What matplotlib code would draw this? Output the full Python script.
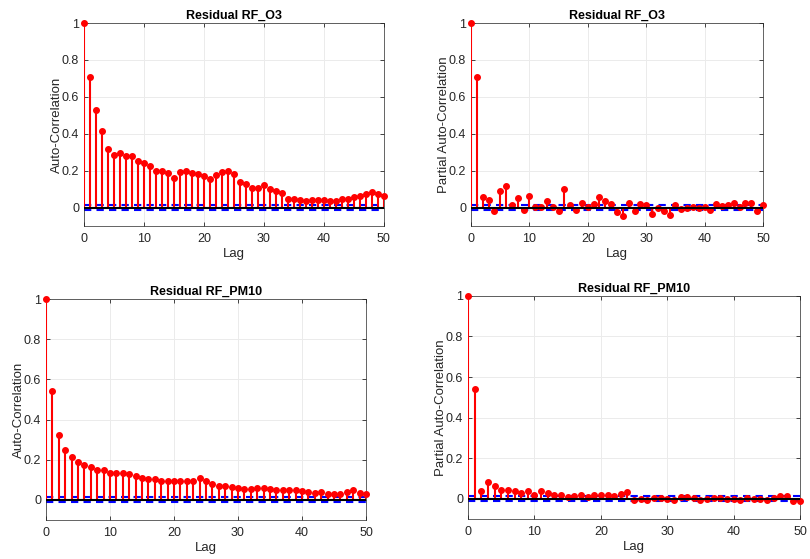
import matplotlib.pyplot as plt
from matplotlib.ticker import FuncFormatter

plt.rcParams['font.family'] = ['Liberation Sans', 'DejaVu Sans']

lags = list(range(51))

acf_o3 = [1.0, 0.71, 0.53, 0.416, 0.315, 0.283, 0.295, 0.281, 0.279, 0.25,
          0.243, 0.225, 0.2, 0.198, 0.187, 0.162, 0.195, 0.2, 0.186, 0.184,
          0.171, 0.157, 0.178, 0.193, 0.198, 0.182, 0.14, 0.128, 0.108, 0.108,
          0.122, 0.103, 0.09, 0.081, 0.047, 0.045, 0.043, 0.038, 0.043, 0.04,
          0.04, 0.038, 0.038, 0.045, 0.049, 0.056, 0.065, 0.076, 0.083, 0.074,
          0.065]

pacf_o3 = [1.0, 0.71, 0.055, 0.042, -0.018, 0.089, 0.118, 0.016, 0.053, -0.015,
           0.065, 0.004, 0.005, 0.036, 0.005, -0.018, 0.098, 0.016, -0.013, 0.022,
           0.005, 0.018, 0.056, 0.035, 0.018, -0.025, -0.044, 0.024, -0.016, 0.018,
           0.013, -0.036, -0.004, -0.016, -0.038, 0.015, -0.007, 0.0, 0.002, -0.004,
           0.004, -0.013, 0.02, 0.011, 0.015, 0.022, 0.002, 0.024, 0.025, -0.02,
           0.016]

acf_pm10 = [1.0, 0.542, 0.322, 0.249, 0.214, 0.189, 0.172, 0.163, 0.151, 0.148,
            0.136, 0.136, 0.134, 0.128, 0.118, 0.109, 0.104, 0.104, 0.096, 0.096,
            0.096, 0.095, 0.093, 0.096, 0.109, 0.095, 0.08, 0.07, 0.07, 0.066,
            0.06, 0.055, 0.056, 0.061, 0.061, 0.056, 0.048, 0.048, 0.05, 0.048,
            0.043, 0.038, 0.036, 0.038, 0.03, 0.027, 0.03, 0.04, 0.05, 0.036,
            0.027]

pacf_pm10 = [1.0, 0.541, 0.039, 0.084, 0.061, 0.043, 0.043, 0.039, 0.03, 0.036,
             0.02, 0.036, 0.026, 0.02, 0.018, 0.01, 0.015, 0.018, 0.007, 0.016,
             0.016, 0.016, 0.015, 0.025, 0.031, -0.008, 0.0, -0.005, 0.003, 0.003,
             -0.003, -0.005, 0.008, 0.008, 0.005, -0.005, 0.0, 0.005, 0.002, -0.002,
             -0.003, -0.007, 0.003, 0.0, -0.002, -0.008, 0.005, 0.013, 0.015, -0.013,
             -0.01]

conf_bound = 0.012

panels = [
    ([0.1037, 0.5957, 0.370, 0.363], acf_o3, 'Residual RF_O3', 'Auto-Correlation'),
    ([0.5815, 0.5957, 0.3605, 0.363], pacf_o3, 'Residual RF_O3', 'Partial Auto-Correlation'),
    ([0.0568, 0.0698, 0.395, 0.395], acf_pm10, 'Residual RF_PM10', 'Auto-Correlation'),
    ([0.5778, 0.0716, 0.41, 0.399], pacf_pm10, 'Residual RF_PM10', 'Partial Auto-Correlation'),
]

fig = plt.figure(figsize=(8.1, 5.59), dpi=100)
dark = '#262626'

for rect, vals, title, ylab in panels:
    ax = fig.add_axes(rect)
    ax.grid(True, color='#ebebeb', linewidth=0.7)
    ax.set_axisbelow(True)
    ax.vlines(lags, 0, vals, color='red', linewidth=1.5, zorder=3)
    ax.plot(lags, vals, 'o', color='red', markersize=4, zorder=4, clip_on=False)
    ax.plot([0, 50], [0, 0], color='black', linewidth=1.5, zorder=5)
    for b in (conf_bound, -conf_bound):
        ax.plot([0, 50], [b, b], '--', color='blue',
                linewidth=1.5, dashes=(3.5, 2.5), zorder=2)
    ax.set_xlim(0, 50)
    ax.set_ylim(-0.1, 1)
    ax.set_xticks(range(0, 51, 10))
    ax.set_yticks([0, 0.2, 0.4, 0.6, 0.8, 1])
    ax.yaxis.set_major_formatter(FuncFormatter(lambda v, p: '%g' % round(v, 2)))
    ax.tick_params(direction='in', top=True, right=True, length=3,
                   labelsize=9, colors=dark, width=0.6)
    ax.tick_params(axis='x', pad=5)
    for s in ax.spines.values():
        s.set_color(dark)
        s.set_linewidth(0.5)
    ax.set_title(title, fontsize=9, fontweight='bold', pad=3)
    ax.set_xlabel('Lag', fontsize=9.5, color=dark, labelpad=2)
    ax.set_ylabel(ylab, fontsize=9.5, color=dark, labelpad=-1)

plt.savefig('out.png', dpi=100)
